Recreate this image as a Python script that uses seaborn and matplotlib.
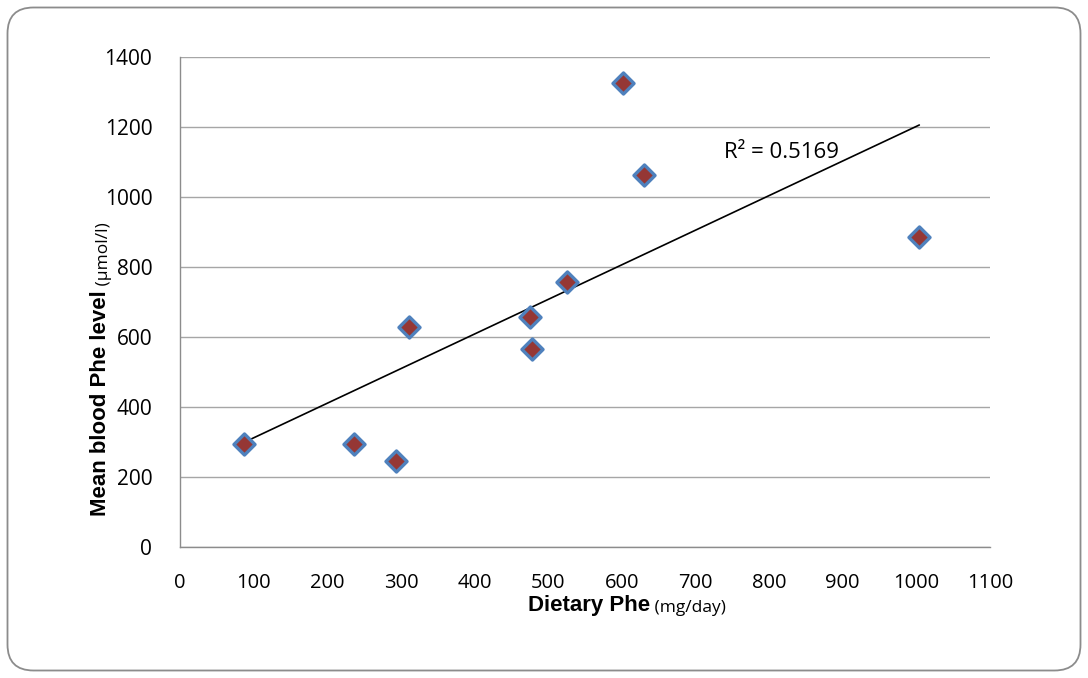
import numpy as np
import pandas as pd
import matplotlib
matplotlib.use("Agg")
import matplotlib.pyplot as plt
import seaborn as sns
from matplotlib.patches import FancyBboxPatch
from matplotlib.transforms import IdentityTransform

# Data
dietary_phe = [87, 236, 293, 311, 475, 478, 525, 601, 630, 1004]
blood_phe = [294, 294, 246, 629, 657, 566, 757, 1325, 1063, 887]
x_ticks = [0, 100, 200, 300, 400, 500, 600, 700, 800, 900, 1000, 1100]
y_ticks = [0, 200, 400, 600, 800, 1000, 1200, 1400]
r2_label = "R\u00b2 = 0.5169"

df = pd.DataFrame({"x": dietary_phe, "y": blood_phe})

sns.set_theme(style="white")
plt.rcParams["font.family"] = ["Open Sans", "DejaVu Sans"]
plt.rcParams["text.color"] = "black"
plt.rcParams["axes.labelcolor"] = "black"

fig = plt.figure(figsize=(10.88, 6.78), dpi=100)
W, H = 1088, 678
ax = fig.add_axes([180 / W, (H - 547) / H, 810 / W, 490 / H])

# rounded outer border (pixel coordinates)
border = FancyBboxPatch((7.5, 7.5), 1073, 663,
                        boxstyle="round,pad=0,rounding_size=26",
                        transform=IdentityTransform(), fill=False,
                        edgecolor="#8c8c8c", linewidth=1.3)
fig.patches.append(border)

sns.regplot(data=df, x="x", y="y", scatter=False, ci=None, truncate=True,
            line_kws=dict(color="black", linewidth=1.2, zorder=3), ax=ax)
sns.scatterplot(data=df, x="x", y="y", marker="D", s=115, color="#953735",
                edgecolor="#4f81bd", linewidth=2.4, zorder=4, ax=ax)

ax.set_xlim(0, 1100)
ax.set_ylim(0, 1400)
ax.set_xticks(x_ticks)
ax.set_yticks(y_ticks)
ax.set_xticklabels([str(v) for v in x_ticks], fontsize=14.5, color="black")
ax.set_yticklabels([str(v) for v in y_ticks], fontsize=15, color="black")
ax.yaxis.grid(True, color="#a6a6a6", linewidth=1.0)
ax.xaxis.grid(False)
for s in ["top", "right"]:
    ax.spines[s].set_visible(False)
for s in ["left", "bottom"]:
    ax.spines[s].set_color("#8c8c8c")
    ax.spines[s].set_linewidth(1.0)
ax.tick_params(axis="both", which="major", direction="out", length=5, width=1,
               color="#8c8c8c", labelcolor="black")
ax.tick_params(axis="y", pad=15)
ax.tick_params(axis="x", pad=14)
ax.set_xlabel("")
ax.set_ylabel("")

ax.text(739, 1126, r2_label, fontsize=16, ha="left", va="center", color="black")

bold_family = ["Liberation Sans", "DejaVu Sans"]
lab_family = ["Open Sans", "DejaVu Sans"]
# x label
t1 = fig.text(528 / W, 1 - 611 / H, "Dietary Phe", fontsize=16, fontweight="bold",
              family=bold_family, ha="left", va="baseline", color="black")
ax.annotate(" (mg/day)", xy=(1, 0), xycoords=t1, fontsize=12.5, family=lab_family,
            ha="left", va="bottom", annotation_clip=False, color="black")

# y label
t2 = fig.text(101 / W, 1 - 516 / H, "Mean blood Phe level", fontsize=16, fontweight="bold",
              family=bold_family, rotation=90, ha="center", va="bottom", color="black")
ax.annotate(" (\u00b5mol/l)", xy=(1, 1), xycoords=t2, fontsize=12.5, family=lab_family,
            rotation=90, ha="right", va="bottom", annotation_clip=False, color="black")

fig.savefig("out.png", dpi=100)
